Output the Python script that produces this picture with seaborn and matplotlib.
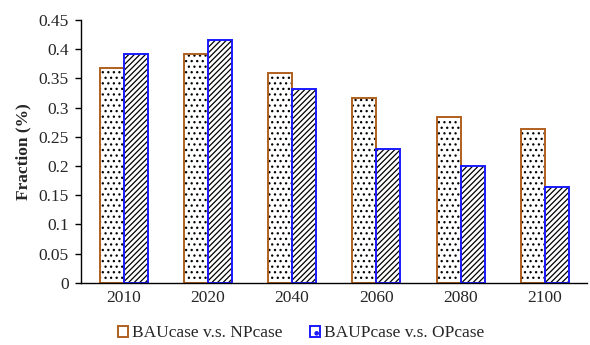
import matplotlib
matplotlib.use("Agg")
import matplotlib.pyplot as plt
import seaborn as sns
import pandas as pd
from matplotlib.patches import Patch
from matplotlib.ticker import FuncFormatter, FixedLocator

years = ["2010", "2020", "2040", "2060", "2080", "2100"]
bau_np = [0.368, 0.392, 0.360, 0.317, 0.284, 0.263]
baup_op = [0.392, 0.415, 0.332, 0.230, 0.200, 0.165]
series = ["BAUcase v.s. NPcase", "BAUPcase v.s. OPcase"]
yticks = [0, 0.05, 0.1, 0.15, 0.2, 0.25, 0.3, 0.35, 0.4, 0.45]

df = pd.DataFrame({
    "year": years * 2,
    "value": bau_np + baup_op,
    "series": [series[0]] * len(years) + [series[1]] * len(years),
})

sns.set_style("white")
plt.rcParams["font.family"] = ["Liberation Serif", "DejaVu Serif"]
plt.rcParams["hatch.linewidth"] = 0.9

edge_cols = ["#b0601e", "#1a1aff"]
hatches = ["...", "//////"]

fig = plt.figure(figsize=(5.9, 3.45), dpi=100)
ax = fig.add_axes([0.138, 0.180, 0.857, 0.762])

# hatch layer (black hatches)
sns.barplot(data=df, x="year", y="value", hue="series", order=years,
            hue_order=series, palette=["white", "white"], width=0.57,
            gap=0, errorbar=None, legend=False, ax=ax)
n = len(years)
for i, p in enumerate(ax.patches[:2 * n]):
    p.set_hatch(hatches[i // n])
    p.set_edgecolor("black")
    p.set_linewidth(0)

# outline layer
sns.barplot(data=df, x="year", y="value", hue="series", order=years,
            hue_order=series, palette=edge_cols, width=0.57, gap=0,
            errorbar=None, fill=False, linewidth=1.4, legend=False, ax=ax)

ax.set_ylim(0, 0.45)
ax.set_xlim(-0.5, n - 0.5)
ax.yaxis.set_major_locator(FixedLocator(yticks))
ax.yaxis.set_major_formatter(FuncFormatter(lambda v, _: "%g" % v))
ax.set_xticks(range(n))
ax.set_xticklabels(years)
ax.set_xticks([i - 0.5 for i in range(n + 1)], minor=True)
ax.tick_params(axis="x", which="major", length=0, labelsize=12.5, pad=5)
ax.tick_params(axis="x", which="minor", length=4, width=1, direction="out", color="black")
ax.tick_params(axis="y", length=4, width=1, direction="out", color="black",
               labelsize=12.5, left=True, pad=5)
ax.set_xlabel("")
ax.set_ylabel("Fraction (%)", fontsize=12.5, fontweight="bold", labelpad=5)
for s in ["top", "right"]:
    ax.spines[s].set_visible(False)
for s in ["left", "bottom"]:
    ax.spines[s].set_color("black")
    ax.spines[s].set_linewidth(1)

handles = [Patch(facecolor="white", edgecolor=edge_cols[k], hatch=".", linewidth=1.4)
           for k in range(2)]
fig.legend(handles, series, loc="lower center", bbox_to_anchor=(0.51, -0.035),
           ncol=2, frameon=False, fontsize=12.5, handlelength=0.6, handleheight=0.6,
           handletextpad=0.2, columnspacing=1.6)

fig.savefig("out.png", dpi=100)
